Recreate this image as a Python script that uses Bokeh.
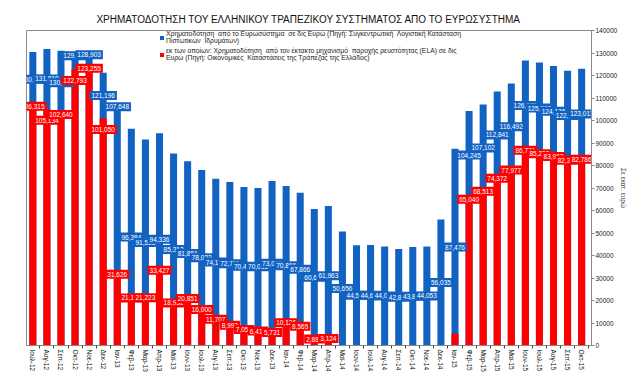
import math
from bokeh.plotting import figure
from bokeh.models import (FixedTicker, ColumnDataSource, Legend, LegendItem,
                          Range1d, NumeralTickFormatter)
from bokeh.embed import file_html
from bokeh.resources import INLINE
from bokeh.core.properties import value

months = ["Ιουλ-12", "Αυγ-12", "Σεπ-12", "Οκτ-12", "Νοε-12", "Δεκ-12",
          "Ιαν-13", "Φεβ-13", "Μαρ-13", "Απρ-13", "Μαϊ-13", "Ιουν-13",
          "Ιουλ-13", "Αυγ-13", "Σεπ-13", "Οκτ-13", "Νοε-13", "Δεκ-13",
          "Ιαν-14", "Φεβ-14", "Μαρ-14", "Απρ-14", "Μαϊ-14", "Ιουν-14",
          "Ιουλ-14", "Αυγ-14", "Σεπ-14", "Οκτ-14", "Νοε-14", "Δεκ-14",
          "Ιαν-15", "Φεβ-15", "Μαρ-15", "Απρ-15", "Μαϊ-15", "Ιουν-15",
          "Ιουλ-15", "Αυγ-15", "Σεπ-15", "Οκτ-15"]

eurosystem = [130435, 131810, 130974, 129310, 128903, 121196,
              107648, 96384, 91553, 94336, 85312, 81881,
              78023, 74154, 72711, 70439, 70015, 73082,
              70866, 67866, 60612, 61963, 50656, 44565,
              44623, 44023, 42891, 43811, 44053, 56035,
              87476, 104245, 107102, 112841, 116492, 126671,
              125828, 124176, 122095, 123011]

ela = [106315, 105134, 102640, 122793, 123255, 101050,
       31626, 21164, 21223, 33427, 18932, 20851,
       16000, 11707, 8992, 7056, 6418, 5731,
       10126, 8565, 2884, 3124, 0, 0,
       0, 0, 0, 0, 0, 0,
       5200, 65040, 68513, 74372, 77977, 86771,
       85252, 83962, 82375, 82786]

ela_labelled = [True] * 22 + [False] * 9 + [True] * 9

title = "ΧΡΗΜΑΤΟΔΟΤΗΣΗ ΤΟΥ ΕΛΛΗΝΙΚΟΥ ΤΡΑΠΕΖΙΚΟΥ ΣΥΣΤΗΜΑΤΟΣ ΑΠΟ ΤΟ ΕΥΡΩΣΥΣΤΗΜΑ"
label_blue = ("Χρηματοδότηση  από το Ευρωσύστημα  σε δις Ευρώ (Πηγή: Συγκεντρωτική  Λογιστική Κατάσταση\n"
              "Πιστωτικών  Ιδρυμάτων)")
label_red = ("εκ των οποίων: Χρηματοδότηση  από τον έκτακτο μηχανισμό  παροχής ρευστότητας (ELA) σε δις\n"
             "Ευρώ (Πηγή: Οικονομικές  Καταστάσεις της Τράπεζας της Ελλάδος)")
y_title = "Σε εκατ. ευρώ"

BLUE = "#1262C2"
RED = "#FF0000"
FONT = "Liberation Sans"

xs = list(range(len(months)))
src = ColumnDataSource(dict(x=xs, total=eurosystem, ela=ela))

# label placement rules
blue_y = []
for i, (b, r) in enumerate(zip(eurosystem, ela)):
    if i > 0 and ela[i - 1] > 0.6 * eurosystem[i - 1] and r < 0.45 * b:
        blue_y.append(b - 1500)
    elif r < 0.45 * b:
        blue_y.append(b / 2)
    else:
        blue_y.append(max((b + r) / 2, r + 6000))
blue_src = ColumnDataSource(dict(x=xs, y=blue_y, t=[f"{v:,}" for v in eurosystem]))
rx = [i for i in xs if ela_labelled[i]]
red_y = []
for i in rx:
    # stagger neighbouring high labels so that they do not hide each other
    if ela[i] > 0.6 * eurosystem[i] and i < 6 and i % 2 == 1:
        red_y.append(ela[i] - 5000)
    else:
        red_y.append(ela[i])
red_src = ColumnDataSource(dict(x=rx, y=red_y, t=[f"{ela[i]:,}" for i in rx]))

p = figure(width=630, height=374, output_backend="svg", toolbar_location=None,
           x_range=Range1d(-0.45, 39.7), y_range=Range1d(0, 140000),
           y_axis_location="right", min_border_left=26, min_border_top=30,
           min_border_bottom=10, min_border_right=30)
p.title.text = title
p.title.align = "center"
p.title.vertical_align = "middle"
p.title.text_font = FONT
p.title.text_font_size = "10px"
p.title.text_font_style = "normal"
p.title.text_color = "#111111"
p.xgrid.visible = False
p.ygrid.visible = False
p.outline_line_color = "#8a8a8a"
p.background_fill_color = "white"

blue_r = p.vbar(x="x", top="total", width=0.5, source=src, fill_color=BLUE, line_color=None)
red_r = p.vbar(x="x", top="ela", width=0.5, source=src, fill_color=RED, line_color=None)

common = dict(text_font=value(FONT), text_font_size="6.5px", text_color="white",
              text_align="center", text_baseline="middle", padding=2)
p.text(x="x", y="y", text="t", source=blue_src, background_fill_color=BLUE, **common)
p.text(x="x", y="y", text="t", source=red_src, background_fill_color=RED, **common)

xa = p.xaxis[0]
xa.ticker = FixedTicker(ticks=xs, minor_ticks=[i - 0.5 for i in range(len(months) + 1)])
xa.major_label_overrides = {i: m for i, m in enumerate(months)}
xa.major_label_orientation = -math.pi / 2
xa.major_tick_out = 0
xa.major_tick_in = 0
xa.minor_tick_out = 3
xa.minor_tick_in = 0
xa.axis_line_color = "#8a8a8a"
xa.minor_tick_line_color = "#444444"
xa.major_label_text_font = FONT
xa.major_label_text_font_size = "6.5px"
xa.major_label_text_color = "#111111"
xa.major_label_standoff = 1

ya = p.yaxis[0]
ya.ticker = FixedTicker(ticks=list(range(0, 140001, 10000)))
ya.formatter = NumeralTickFormatter(format="0")
ya.major_tick_out = 3
ya.major_tick_in = 0
ya.minor_tick_out = 0
ya.minor_tick_in = 0
ya.axis_line_color = "#8a8a8a"
ya.major_tick_line_color = "#8a8a8a"
ya.major_label_text_font = FONT
ya.major_label_text_font_size = "6.5px"
ya.major_label_text_color = "#222222"
ya.major_label_standoff = 1
ya.axis_label = y_title
ya.axis_label_text_font = FONT
ya.axis_label_text_font_size = "6.5px"
ya.axis_label_text_font_style = "normal"
ya.axis_label_text_line_height = 1.0
ya.axis_label_standoff = 0

legend = Legend(items=[LegendItem(label=label_blue, renderers=[blue_r]),
                       LegendItem(label=label_red, renderers=[red_r])],
                location=(133, 284))
legend.label_text_font = FONT
legend.label_text_font_size = "6.8px"
legend.label_text_color = "#222222"
legend.label_text_line_height = 1.05
legend.glyph_width = 5
legend.glyph_height = 5
legend.label_standoff = 2
legend.spacing = 3
legend.padding = 2
legend.margin = 0
legend.border_line_color = None
legend.background_fill_alpha = 0
p.add_layout(legend)

open("out.html", "w").write(file_html(p, INLINE))
